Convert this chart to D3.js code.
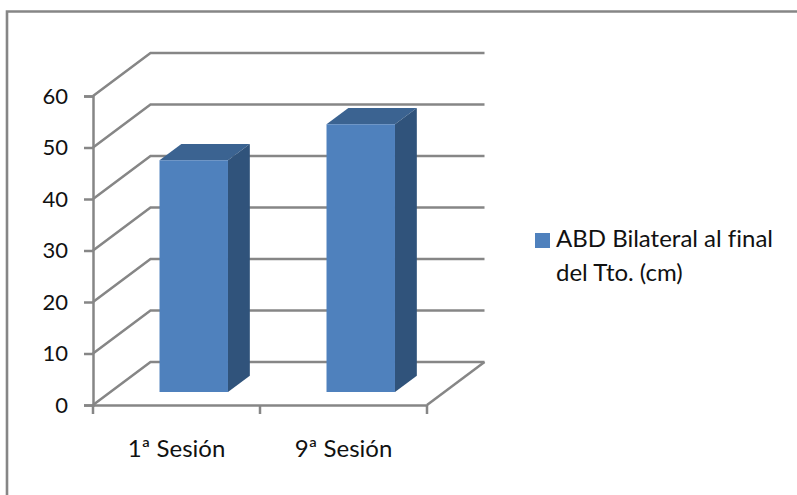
<!DOCTYPE html>
<html>
<head>
<meta charset="utf-8">
<script src="https://cdnjs.cloudflare.com/ajax/libs/d3/7.8.5/d3.min.js"></script>
<style>
html, body { margin: 0; padding: 0; background: #fff; }
svg { display: block; }
text { font-family: Lato, "Open Sans", sans-serif; fill: #111; font-variant-ligatures: none; }
</style>
</head>
<body>
<div id="chart"></div>
<script>
// loading data
var categories = ["1ª Sesión", "9ª Sesión"];
var values = [45, 52];
var yTicks = [0, 10, 20, 30, 40, 50, 60];
var legendLines = ["ABD Bilateral al final", "del Tto. (cm)"];

var width = 797, height = 495;

// setting the plot area: front plane of the box and the depth shift of the back wall
var plot = { left: 93, right: 427, top: 96, bottom: 405 };
var depth = { x: 57.5, y: -43 };
var barNear = 0.3, barFar = 0.68;

var gray = "#868686";

var svg = d3.select("#chart")
	.append("svg")
	.attr("width", width)
	.attr("height", height);

// outer frame of the chart
svg.append("path")
	.attr("d", "M7,495V11.5H797")
	.attr("fill", "none")
	.attr("stroke", gray)
	.attr("stroke-width", 2.6);

var x = d3.scaleBand()
	.domain(categories)
	.range([plot.left, plot.right])
	.paddingInner(0.59)
	.paddingOuter(0.295);

var xOuter = d3.scaleBand()
	.domain(categories)
	.range([plot.left, plot.right]);

var y = d3.scaleLinear()
	.domain([0, 60])
	.range([plot.bottom, plot.top]);

// projecting a point of the front plane to a given depth (0 front, 1 back)
function project(px, py, d) {
	return [px + depth.x * d, py + depth.y * d];
}

// gridlines: slanted on the side wall, horizontal on the back wall
var line = d3.line();
svg.append("g")
	.selectAll("path")
	.data(yTicks)
	.enter()
	.append("path")
	.attr("fill", "none")
	.attr("stroke", gray)
	.attr("stroke-width", 2.5)
	.attr("d", function(d) {
		return line([
			[plot.left, y(d)],
			project(plot.left, y(d), 1),
			project(plot.right, y(d), 1)
		]);
	});

// floor edge on the right side
svg.append("path")
	.attr("fill", "none")
	.attr("stroke", gray)
	.attr("stroke-width", 2.5)
	.attr("d", line([[plot.right, y(0)], project(plot.right, y(0), 1)]));

// adding y axis
var yAxis = svg.append("g")
	.attr("transform", "translate(" + plot.left + ",0)")
	.call(d3.axisLeft(y).tickValues(yTicks).tickSize(9).tickPadding(16).tickFormat(d3.format("d")));

// adding x axis
var xAxis = svg.append("g")
	.attr("transform", "translate(0," + plot.bottom + ")")
	.call(d3.axisBottom(xOuter).tickSize(0).tickPadding(35));

// x ticks sit on the band edges
xAxis.selectAll(".edge")
	.data(d3.range(categories.length + 1))
	.enter()
	.append("line")
	.attr("class", "edge")
	.attr("x1", function(i) { return plot.left + i * xOuter.bandwidth(); })
	.attr("x2", function(i) { return plot.left + i * xOuter.bandwidth(); })
	.attr("y1", 0)
	.attr("y2", 9);

svg.selectAll(".domain, .tick line, .edge")
	.attr("stroke", gray)
	.attr("stroke-width", 2.5);

yAxis.selectAll(".tick text")
	.attr("font-size", 22)
	.style("fill", "#111");

xAxis.selectAll(".tick text")
	.attr("font-size", 24)
	.style("fill", "#111");

// drawing the bars as three faces each
var bars = svg.append("g")
	.selectAll("g")
	.data(categories)
	.enter()
	.append("g");

function face(corners) {
	return line(corners) + "Z";
}

bars.append("path")
	.attr("fill", "#3B6391")
	.attr("d", function(d, i) {
		var x0 = x(d), x1 = x(d) + x.bandwidth(), t = y(values[i]);
		return face([
			project(x0, t, barNear), project(x1, t, barNear),
			project(x1, t, barFar), project(x0, t, barFar)
		]);
	});

bars.append("path")
	.attr("fill", "#30537B")
	.attr("d", function(d, i) {
		var x1 = x(d) + x.bandwidth(), t = y(values[i]), b = y(0);
		return face([
			project(x1, t, barNear), project(x1, t, barFar),
			project(x1, b, barFar), project(x1, b, barNear)
		]);
	});

bars.append("path")
	.attr("fill", "#4F81BD")
	.attr("d", function(d, i) {
		var x0 = x(d), x1 = x(d) + x.bandwidth(), t = y(values[i]), b = y(0);
		return face([
			project(x0, t, barNear), project(x1, t, barNear),
			project(x1, b, barNear), project(x0, b, barNear)
		]);
	});

// adding legend
var legend = svg.append("g");

legend.append("rect")
	.attr("x", 535)
	.attr("y", 233)
	.attr("width", 15)
	.attr("height", 15)
	.attr("fill", "#4F81BD");

legend.selectAll("text")
	.data(legendLines)
	.enter()
	.append("text")
	.attr("x", 556)
	.attr("y", function(d, i) { return 247 + i * 34; })
	.attr("font-size", 24)
	.text(function(d) { return d; });
</script>
</body>
</html>
